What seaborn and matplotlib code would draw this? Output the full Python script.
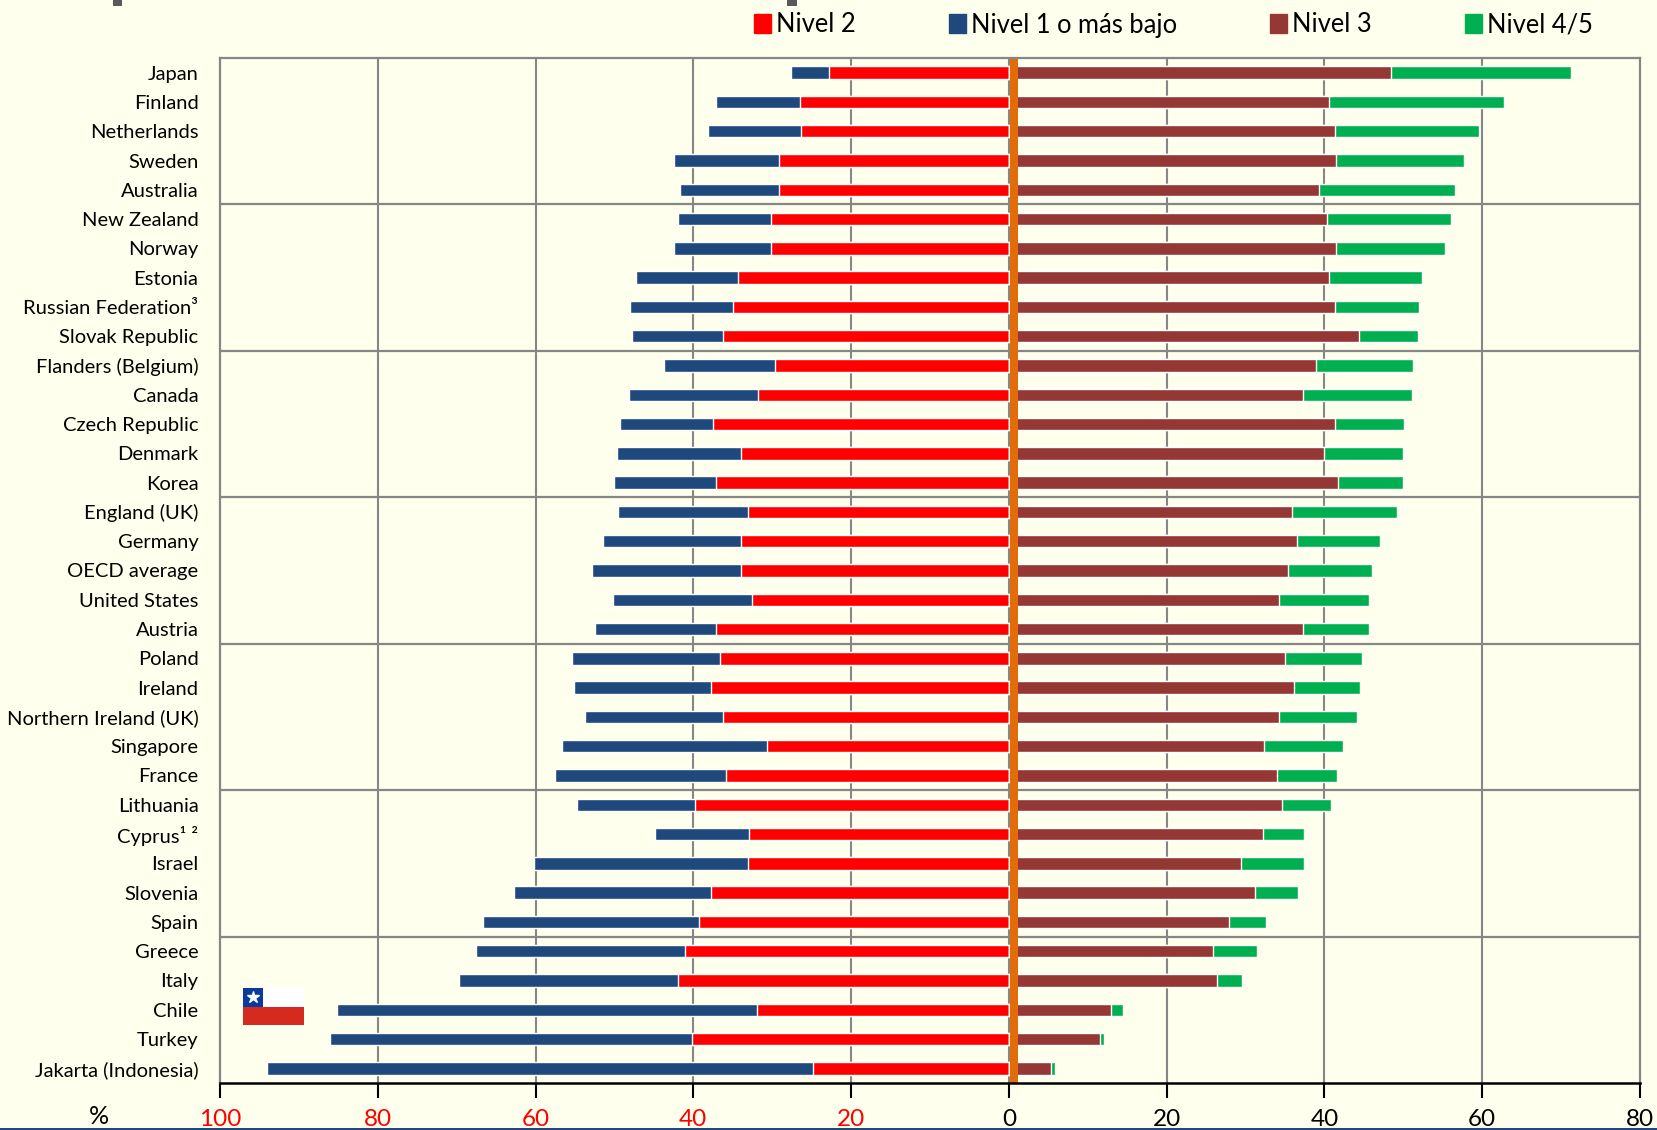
import matplotlib
matplotlib.use("Agg")
import matplotlib.pyplot as plt
from matplotlib.lines import Line2D
from matplotlib.patches import Patch, Rectangle
import numpy as np
import pandas as pd
import seaborn as sns

countries = ["Japan", "Finland", "Netherlands", "Sweden", "Australia",
             "New Zealand", "Norway", "Estonia", "Russian Federation³", "Slovak Republic",
             "Flanders (Belgium)", "Canada", "Czech Republic", "Denmark", "Korea",
             "England (UK)", "Germany", "OECD average", "United States", "Austria",
             "Poland", "Ireland", "Northern Ireland (UK)", "Singapore", "France",
             "Lithuania", "Cyprus¹ ²", "Israel", "Slovenia", "Spain",
             "Greece", "Italy", "Chile", "Turkey", "Jakarta (Indonesia)"]
nivel1 = [4.8, 10.6, 11.7, 13.3, 12.5, 11.8, 12.3, 13.0, 13.0, 11.5,
          14.1, 16.4, 11.8, 15.7, 12.9, 16.4, 17.6, 18.9, 17.6, 15.4,
          18.8, 17.4, 17.4, 26.0, 21.6, 15.0, 11.9, 27.1, 24.9, 27.3,
          26.4, 27.7, 53.3, 45.8, 69.3]
nivel2 = [22.8, 26.5, 26.4, 29.1, 29.2, 30.2, 30.2, 34.3, 35.0, 36.3,
          29.6, 31.8, 37.5, 34.0, 37.1, 33.1, 33.9, 33.9, 32.6, 37.1,
          36.6, 37.7, 36.3, 30.7, 35.9, 39.8, 33.0, 33.1, 37.8, 39.3,
          41.1, 42.0, 31.9, 40.2, 24.8]
nivel3 = [48.5, 40.6, 41.4, 41.5, 39.3, 40.3, 41.5, 40.6, 41.3, 44.4,
          38.9, 37.3, 41.4, 39.9, 41.7, 35.9, 36.5, 35.4, 34.2, 37.3,
          35.0, 36.1, 34.2, 32.3, 34.0, 34.6, 32.2, 29.4, 31.2, 27.9,
          25.9, 26.4, 13.0, 11.5, 5.4]
nivel45 = [22.7, 22.2, 18.2, 16.2, 17.2, 15.7, 13.8, 11.8, 10.7, 7.5,
           12.3, 13.8, 8.7, 10.1, 8.2, 13.3, 10.6, 10.6, 11.5, 8.4,
           9.7, 8.4, 9.9, 10.1, 7.6, 6.2, 5.2, 8.0, 5.5, 4.7,
           5.6, 3.2, 1.5, 0.6, 0.5]

BG = "#FFFFED"
AZUL, ROJO, CAFE, VERDE = "#1F497D", "#FF0000", "#953735", "#00B050"
NARANJA = "#E36C0A"
GRIS = "#868686"

sns.set_theme(style="white")
plt.rcParams["font.family"] = ["Lato", "DejaVu Sans"]

W, H = 1658, 1130
fig = plt.figure(figsize=(W / 100, H / 100), dpi=100, facecolor=BG)
ax = fig.add_axes([220 / W, 1 - 1083 / H, 1420 / W, 1025 / H], facecolor=BG)

df = pd.DataFrame({"pais": countries, "n1": nivel1, "n2": nivel2, "n3": nivel3, "n45": nivel45})
# barras acumuladas, se pintan de la mas larga a la mas corta
df["izq_total"] = -(df.n1 + df.n2)
df["izq_rojo"] = -df.n2
df["der_total"] = df.n3 + df.n45
df["der_cafe"] = df.n3
capas = [("izq_total", AZUL), ("izq_rojo", ROJO), ("der_total", VERDE), ("der_cafe", CAFE)]
for col, color in capas:
    sns.barplot(data=df, x=col, y="pais", color=color, saturation=1, width=0.42,
                orient="h", ax=ax, zorder=3)

ax.set_xlim(-100, 80)
ax.set_ylim(len(countries) - 0.5, -0.5)
ax.set_xlabel("")
ax.set_ylabel("")

# cuadricula
ax.set_axisbelow(True)
xt = list(range(-100, 81, 20))
for x in xt[1:-1]:
    ax.axvline(x, color=GRIS, lw=1.5, zorder=1)
for y in np.arange(4.5, len(countries) - 1, 5):
    ax.axhline(y, color=GRIS, lw=1.6, zorder=1)
ax.axvspan(0.2, 1.2, color=NARANJA, lw=0, zorder=4)

ax.set_xticks(xt)
ax.set_xticklabels([str(abs(v)) for v in xt], fontsize=17.5)
for lab, v in zip(ax.get_xticklabels(), xt):
    lab.set_color(ROJO if v < 0 else "black")
ax.tick_params(axis="x", length=10.8, width=1.5, color="black", pad=8, bottom=True)
ax.tick_params(axis="y", length=0, pad=15.5, labelsize=14.5, labelcolor="black")
for s in ["top", "left", "right"]:
    ax.spines[s].set_color(GRIS)
    ax.spines[s].set_linewidth(1.6)
ax.spines["bottom"].set_color("black")
ax.spines["bottom"].set_linewidth(1.8)
for s in ax.spines.values():
    s.set_zorder(5)

fig.text(99 / W, 1 - 1117 / H, "%", fontsize=18, color="black", ha="center", va="center")

handles = [Patch(color=ROJO), Patch(color=AZUL), Patch(color=CAFE), Patch(color=VERDE)]
fig.legend(handles, ["Nivel 2", "Nivel 1 o más bajo", "Nivel 3", "Nivel 4/5"],
           loc="center left", bbox_to_anchor=(731 / W, 1 - 25 / H), ncols=4, frameon=False,
           fontsize=18.4, handlelength=0.65, handleheight=0.75, handletextpad=0.2,
           columnspacing=3.66, labelcolor="black")


def caja(x0, y0, x1, y1, color):
    fig.add_artist(Rectangle((x0 / W, 1 - y1 / H), (x1 - x0) / W, (y1 - y0) / H,
                             transform=fig.transFigure, facecolor=color, edgecolor="none"))


# bandera de Chile
caja(243, 988, 304, 1007, "white")
caja(243, 988, 263, 1007, "#0A3A9E")
caja(243, 1007, 304, 1025, "#D52B1E")
fig.add_artist(Line2D([253 / W], [1 - 997 / H], marker="*", markersize=9, color="white",
                      transform=fig.transFigure))
# restos recortados arriba y linea azul abajo
caja(113, 0, 122, 6, "#595959")
caja(787, 0, 797, 6, "#595959")
caja(0, 1128, W, H, AZUL)

fig.savefig("out.png", dpi=100, facecolor=BG)
